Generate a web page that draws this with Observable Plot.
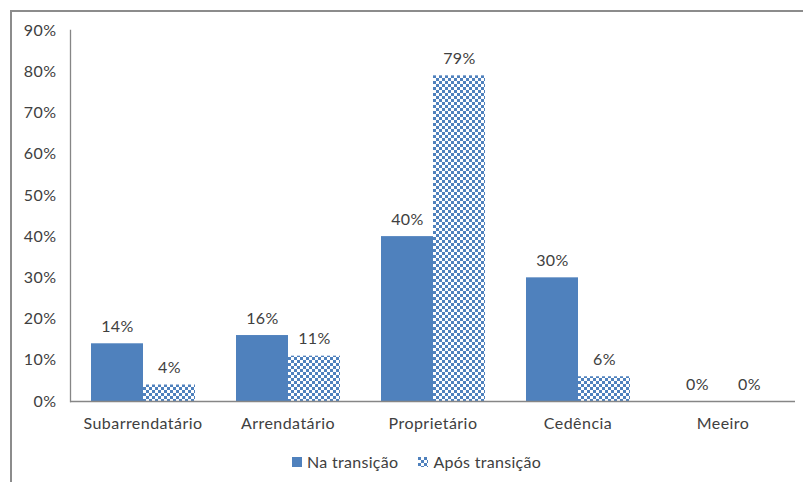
<!DOCTYPE html>
<html>
<head>
<meta charset="utf-8">
<script src="https://cdn.jsdelivr.net/npm/d3@7"></script>
<script src="https://cdn.jsdelivr.net/npm/@observablehq/plot@0.6"></script>
<style>
  body { margin: 0; background: #fff; font-family: Lato, "Open Sans", sans-serif; }
  #wrap { position: relative; width: 803px; height: 482px; overflow: hidden; }
  #border { position: absolute; left: 10px; top: 10px; width: 800px; height: 480px;
            border-left: 2px solid #8c8c8c; border-top: 2px solid #8c8c8c; box-sizing: border-box; }
  #chart { position: absolute; left: 0; top: 0; }
  #chart svg text { letter-spacing: 0.45px; }
  #legend { position: absolute; top: 452px; left: 292px; display: flex; align-items: center;
            font-size: 16px; letter-spacing: 0.3px; color: #404040; }
  #legend .item { display: flex; align-items: center; margin-right: 20px; }
  #legend svg { margin-right: 5px; }
</style>
</head>
<body>
<svg width="0" height="0" style="position:absolute">
  <defs>
    <pattern id="checker" width="6" height="6" patternUnits="userSpaceOnUse">
      <rect width="6" height="6" fill="#ffffff"></rect>
      <rect x="0" y="0" width="3" height="3" fill="#4F81BD"></rect>
      <rect x="3" y="3" width="3" height="3" fill="#4F81BD"></rect>
    </pattern>
  </defs>
</svg>
<div id="wrap">
  <div id="border"></div>
  <div id="chart"></div>
  <div id="legend"></div>
</div>
<script>
const categories = ["Subarrendatário", "Arrendatário", "Proprietário", "Cedência", "Meeiro"];
const series = ["Na transição", "Após transição"];
const naTransicao = [0.14, 0.16, 0.40, 0.30, 0.00];
const aposTransicao = [0.04, 0.11, 0.79, 0.06, 0.00];
const yTicks = [0, 0.1, 0.2, 0.3, 0.4, 0.5, 0.6, 0.7, 0.8, 0.9];

const seriesValues = [naTransicao, aposTransicao];
const data = [];
categories.forEach((c, i) => {
  series.forEach((s, j) => data.push({category: c, series: s, value: seriesValues[j][i]}));
});

const fills = {"Na transição": "#4F81BD", "Após transição": "url(#checker)"};
const font = "Lato, 'Open Sans', sans-serif";

const chart = Plot.plot({
  width: 803,
  height: 440,
  marginLeft: 68,
  marginRight: 7,
  marginTop: 30,
  marginBottom: 39,
  style: {fontFamily: font, fontSize: "16px", color: "#404040", background: "transparent"},
  fx: {domain: categories, padding: 0, label: null},
  x: {domain: series, paddingInner: 0, paddingOuter: 0.387, axis: null},
  y: {domain: [0, 0.9], label: null},
  marks: [
    Plot.barY(data, {fx: "category", x: "series", y: "value", fill: d => fills[d.series]}),
    Plot.text(data, {fx: "category", x: "series", y: "value", text: d => d3.format(".0%")(d.value),
      dy: -17, fill: "#404040", fontSize: 16}),
    Plot.axisY({ticks: yTicks, tickFormat: d3.format(".0%"), tickSize: 0, tickPadding: 14,
      label: null, fontSize: 16, fill: "#404040"}),
    Plot.axisFx({anchor: "bottom", tickSize: 0, tickPadding: 16, label: null, fontSize: 16, fill: "#404040"}),
    Plot.ruleY([0], {stroke: "#868686", strokeWidth: 1.3}),
    Plot.frame({anchor: "left", facet: "super", stroke: "#868686", strokeWidth: 1.3})
  ]
});
document.getElementById("chart").appendChild(chart);

const legend = document.getElementById("legend");
series.forEach(s => {
  const item = document.createElement("div");
  item.className = "item";
  item.innerHTML = `<svg width="10" height="10"><rect width="10" height="10" fill="${fills[s]}"></rect></svg><span>${s}</span>`;
  legend.appendChild(item);
});
</script>
</body>
</html>
